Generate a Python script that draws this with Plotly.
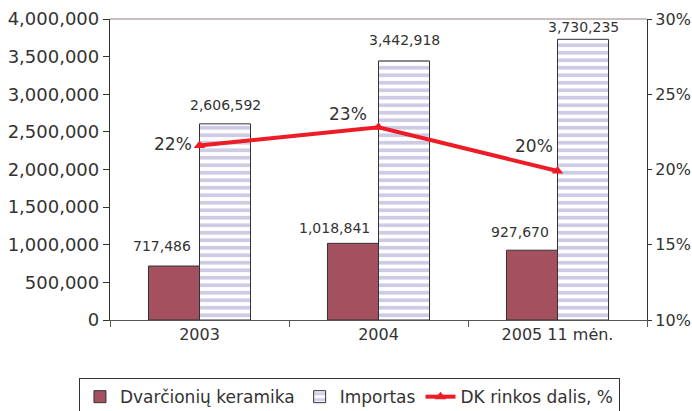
import plotly.graph_objects as go

categories = ["2003", "2004", "2005 11 mėn."]
dvarcioniu = [717486, 1018841, 927670]
importas = [2606592, 3442918, 3730235]
dk_share = [21.6, 22.8, 19.9]
dk_labels = ["22%", "23%", "20%"]
left_ticks = [0, 500000, 1000000, 1500000, 2000000, 2500000, 3000000, 3500000, 4000000]
right_ticks = [10, 15, 20, 25, 30]

FONT = "DejaVu Sans, Verdana, sans-serif"
TXT = "#333333"
AX = "#333333"

fig = go.Figure()
fig.add_trace(go.Bar(
    x=categories, y=dvarcioniu, name="Dvarčionių keramika",
    marker=dict(color="#a5505f", line=dict(color="#333333", width=1)),
))
fig.add_trace(go.Bar(
    x=categories, y=importas, name="Importas",
    marker=dict(color="white", line=dict(color="#333333", width=1),
                pattern=dict(shape="-", fgcolor="#9d97cb", bgcolor="white",
                             size=7.5, solidity=0.5, fillmode="overlay")),
))
fig.add_trace(go.Scatter(
    x=categories, y=dk_share, name="DK rinkos dalis, %", yaxis="y2",
    mode="lines+markers",
    line=dict(color="#ee1c25", width=4),
    marker=dict(symbol="triangle-up", size=10, color="#ee1c25"),
    cliponaxis=False,
))

annotations = []
# value labels (Excel-style manual placement offsets)
dv_yshift = [20, 15, 18]
im_yshift = [19, 21, 12]
for i, (v, ys) in enumerate(zip(dvarcioniu, dv_yshift)):
    annotations.append(dict(x=i, y=v, xref="x", yref="y", text=f"{v:,}", showarrow=False,
                            xanchor="right", yanchor="middle", xshift=-7, yshift=ys,
                            font=dict(size=14, color=TXT, family=FONT)))
for i, (v, ys) in enumerate(zip(importas, im_yshift)):
    annotations.append(dict(x=i, y=v, xref="x", yref="y", text=f"{v:,}", showarrow=False,
                            xanchor="center", yanchor="middle", xshift=26, yshift=ys,
                            font=dict(size=14, color=TXT, family=FONT)))
pct_xshift = [-6, -10, -3]
pct_yshift = [1, 13, 25]
for i, (v, t, xs, ys) in enumerate(zip(dk_share, dk_labels, pct_xshift, pct_yshift)):
    annotations.append(dict(x=i, y=v, xref="x", yref="y2", text=t, showarrow=False,
                            xanchor="right", yanchor="middle", xshift=xs, yshift=ys,
                            font=dict(size=17, color=TXT, family=FONT)))

fig.update_layout(
    width=692, height=411,
    margin=dict(l=110, r=45, t=19, b=91, autoexpand=False),
    paper_bgcolor="white", plot_bgcolor="white",
    font=dict(family=FONT, size=17, color=TXT),
    barmode="group", bargap=0.43, bargroupgap=0,
    showlegend=True,
    legend=dict(orientation="h", xref="container", yref="container",
                x=0.505, xanchor="center", y=0.08, yanchor="top",
                bordercolor="#333333", borderwidth=1, font=dict(size=17, color=TXT),
                itemwidth=30, tracegroupgap=0),
    xaxis=dict(type="category", categoryorder="array", categoryarray=categories,
               range=[-0.5, 2.5], showline=True, linecolor="#555555", linewidth=1.3,
               ticks="outside", tickson="boundaries", ticklen=6, tickcolor="#555555",
               tickfont=dict(size=16, color=TXT), showgrid=False),
    xaxis2=dict(overlaying="x", anchor="y", type="linear", range=[-0.5, 2.5],
                tickvals=[-0.5, 0.5, 1.5, 2.5],
                ticks="inside", ticklen=5, tickcolor="#555555", showticklabels=False,
                showline=False, showgrid=False, zeroline=False, side="bottom"),
    yaxis=dict(range=[0, 4000000], tickvals=left_ticks,
               ticktext=[f"{v:,}" for v in left_ticks],
               showline=True, linecolor=AX, linewidth=1.3, ticks="outside",
               ticklen=6, tickcolor=AX, showgrid=False, zeroline=False,
               tickfont=dict(size=18, color=TXT)),
    yaxis3=dict(overlaying="y", anchor="x", range=[0, 4000000], tickvals=left_ticks,
                ticks="inside", ticklen=5, tickcolor=AX, showticklabels=False,
                showline=False, showgrid=False, zeroline=False, side="left"),
    yaxis2=dict(range=[10, 30], tickvals=right_ticks,
                ticktext=[f"{v}%" for v in right_ticks],
                overlaying="y", side="right",
                showline=True, linecolor=AX, linewidth=1.3, ticks="outside",
                ticklen=4, tickcolor=AX, showgrid=False, zeroline=False,
                tickfont=dict(size=16, color=TXT)),
    yaxis4=dict(overlaying="y", anchor="x", range=[10, 30], tickvals=right_ticks,
                ticks="inside", ticklen=5, tickcolor=AX, showticklabels=False,
                showline=False, showgrid=False, zeroline=False, side="right"),
    shapes=[dict(type="line", xref="paper", yref="paper", x0=0, x1=1, y0=1, y1=1,
                 line=dict(color="#b8a8a8", width=1.3))],
    annotations=annotations,
)

fig.write_html("out.html", config={"displayModeBar": False},
               post_script="document.body.style.margin='0';document.body.style.overflow='hidden';")
